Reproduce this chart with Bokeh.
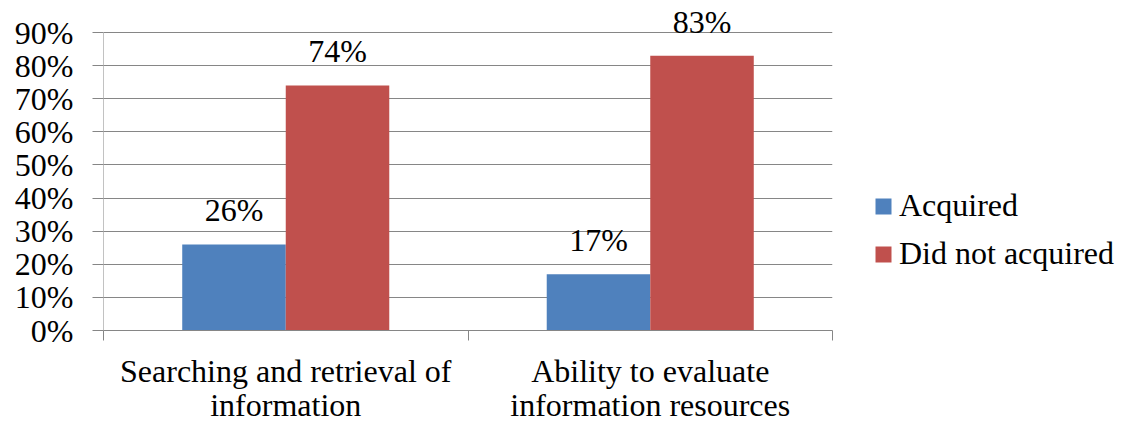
from bokeh.plotting import figure
from bokeh.layouts import row
from bokeh.models import Range1d, FixedTicker, NumeralTickFormatter, Legend, LegendItem, ColumnDataSource
from bokeh.core.properties import value
from bokeh.embed import file_html
from bokeh.resources import INLINE

# ---- data ----
categories = ["Searching and retrieval of\ninformation", "Ability to evaluate\ninformation resources"]
series_names = ["Acquired", "Did not acquired"]
acquired = [0.26, 0.17]
not_acquired = [0.74, 0.83]
y_ticks = [0.0, 0.1, 0.2, 0.3, 0.4, 0.5, 0.6, 0.7, 0.8, 0.9]
colors = ["#4F81BD", "#C0504D"]

FONT = "Liberation Serif"
FS = "32px"
GRID = "#868686"
bar_w = 0.284

n = len(categories)
centers = [i + 0.5 for i in range(n)]
bounds = [float(i) for i in range(n + 1)]

# headroom above the top tick so the value labels are not clipped
y_end = y_ticks[-1] * 322.0 / 298.0

p = figure(width=840, height=426, output_backend="svg", toolbar_location=None,
           x_range=Range1d(0, n), y_range=Range1d(0, y_end),
           min_border_left=103, min_border_right=8, min_border_top=8, min_border_bottom=96)
p.outline_line_color = None
p.background_fill_color = "white"

renderers = []
for k, (name, vals, col) in enumerate(zip(series_names, [acquired, not_acquired], colors)):
    xs = [c + (k - 0.5) * bar_w for c in centers]
    src = ColumnDataSource(dict(x=xs, top=vals, lab=[f"{round(v * 100)}%" for v in vals]))
    r = p.vbar(x="x", top="top", bottom=0, width=bar_w, source=src, fill_color=col, line_color=None)
    renderers.append(r)
    p.text(x="x", y="top", text="lab", source=src, text_align="center", text_baseline="alphabetic",
           y_offset=-34, text_font=value(FONT), text_font_size=FS, text_color="black")

# grid
p.xgrid.visible = False
p.ygrid.ticker = FixedTicker(ticks=y_ticks)
p.ygrid.grid_line_color = GRID

# vertical axis line only up to the top tick
p.segment(x0=[0], x1=[0], y0=[y_ticks[0]], y1=[y_ticks[-1]], line_color=GRID, line_width=1)

ya = p.yaxis[0]
ya.ticker = FixedTicker(ticks=y_ticks)
ya.formatter = NumeralTickFormatter(format="0%")
ya.axis_line_color = None
ya.major_tick_line_color = GRID
ya.major_tick_out = 11
ya.major_tick_in = 0
ya.minor_tick_line_color = None
ya.major_label_standoff = 19
ya.major_label_text_font = FONT
ya.major_label_text_font_size = FS
ya.major_label_text_color = "black"

xa = p.xaxis[0]
xa.ticker = FixedTicker(ticks=centers, minor_ticks=bounds)
xa.major_label_overrides = {c: lab for c, lab in zip(centers, categories)}
xa.axis_line_color = GRID
xa.major_tick_line_color = None
xa.minor_tick_line_color = GRID
xa.minor_tick_out = 10
xa.minor_tick_in = 0
xa.major_label_standoff = 12
xa.major_label_text_font = FONT
xa.major_label_text_font_size = FS
xa.major_label_text_line_height = 0.95
xa.major_label_text_color = "black"

# legend panel
lg = figure(width=288, height=426, output_backend="svg", toolbar_location=None,
            x_range=Range1d(0, 1), y_range=Range1d(0, 1), min_border=0)
lg.axis.visible = False
lg.grid.visible = False
lg.outline_line_color = None
lrs = [lg.vbar(x=[0], top=[0], width=0, fill_color=col, line_color=None) for col in colors]
legend = Legend(items=[LegendItem(label=nm, renderers=[r]) for nm, r in zip(series_names, lrs)],
                location=(33, 58), border_line_color=None, background_fill_alpha=0,
                padding=0, margin=0, spacing=11, label_height=24, glyph_width=20, glyph_height=20,
                label_standoff=6, label_text_font=FONT, label_text_font_size=FS,
                label_text_color="black")
lg.add_layout(legend)

layout = row(p, lg, spacing=0)
open("out.html", "w").write(file_html(layout, INLINE))
